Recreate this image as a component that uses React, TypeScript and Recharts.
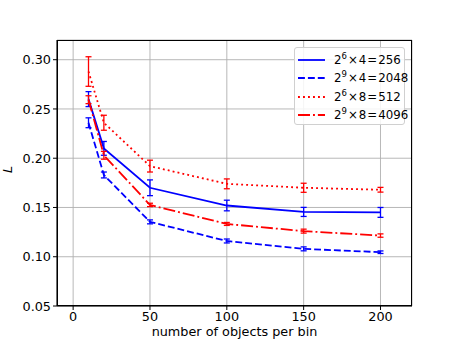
import { LineChart, Line, XAxis, YAxis, CartesianGrid, ErrorBar, Label } from "recharts";

const objectsPerBin = [10, 20, 50, 100, 150, 200];

const solid256 = [0.26, 0.21, 0.17, 0.152, 0.1455, 0.145];
const solid256Err = [0.0076, 0.007, 0.008, 0.0054, 0.0046, 0.005];

const dashed2048 = [0.236, 0.183, 0.1354, 0.116, 0.108, 0.1046];
const dashed2048Err = [0.005, 0.003, 0.002, 0.002, 0.002, 0.0013];

const dotted512 = [0.288, 0.236, 0.192, 0.174, 0.17, 0.168];
const dotted512Err = [0.015, 0.0076, 0.006, 0.005, 0.0046, 0.0024];

const dashdot4096 = [0.2594, 0.203, 0.1526, 0.1333, 0.126, 0.1215];
const dashdot4096Err = [0.004, 0.004, 0.0017, 0.0015, 0.002, 0.0017];

const xTicks = [0, 50, 100, 150, 200];
const yTicks = [0.05, 0.1, 0.15, 0.2, 0.25, 0.3];

const data = objectsPerBin.map((n, i) => ({
  n,
  a: solid256[i],
  aErr: solid256Err[i],
  b: dashed2048[i],
  bErr: dashed2048Err[i],
  c: dotted512[i],
  cErr: dotted512Err[i],
  d: dashdot4096[i],
  dErr: dashdot4096Err[i],
}));

const legendItems = [
  { exp: "6", mult: "4", total: "256", color: "#0000ff", dash: undefined },
  { exp: "9", mult: "4", total: "2048", color: "#0000ff", dash: "6.9 3" },
  { exp: "6", mult: "8", total: "512", color: "#ff0000", dash: "1.9 3.1" },
  { exp: "9", mult: "8", total: "4096", color: "#ff0000", dash: "12 3 1.9 3" },
];

const font = "'DejaVu Sans', sans-serif";

export default function App() {
  return (
    <div style={{ position: "absolute", left: 0, top: 0, width: 457, height: 343, fontFamily: font, background: "#fff" }}>
      <LineChart width={457} height={343} data={data} margin={{ top: 40, right: 45, left: 0, bottom: 0 }}>
        <CartesianGrid stroke="#b0b0b0" strokeWidth={0.9} />
        <XAxis
          dataKey="n"
          type="number"
          domain={[-10.5, 220.5]}
          ticks={xTicks}
          height={37}
          tickSize={4}
          tickMargin={2}
          stroke="#000"
          tick={{ fill: "#000", fontSize: 12.8, fontFamily: font }}
        >
          <Label value="number of objects per bin" position="bottom" offset={-16} style={{ fill: "#000", fontSize: 12.8, fontFamily: font }} />
        </XAxis>
        <YAxis
          type="number"
          domain={[0.05, 0.32]}
          ticks={yTicks}
          width={57}
          tickSize={4}
          tickMargin={2}
          stroke="#000"
          allowDataOverflow
          tickFormatter={(v: number) => v.toFixed(2)}
          tick={{ fill: "#000", fontSize: 12.8, fontFamily: font }}
        >
          <Label value="L" angle={-90} position="insideLeft" offset={7} style={{ fill: "#000", fontSize: 12.8, fontStyle: "italic", fontFamily: font }} />
        </YAxis>
        <Line dataKey="a" stroke="#0000ff" strokeWidth={1.8} dot={false} isAnimationActive={false}>
          <ErrorBar dataKey="aErr" width={3} stroke="#0000ff" strokeWidth={1.3} direction="y" />
        </Line>
        <Line dataKey="b" stroke="#0000ff" strokeWidth={1.8} strokeDasharray="6.9 3" dot={false} isAnimationActive={false}>
          <ErrorBar dataKey="bErr" width={3} stroke="#0000ff" strokeWidth={1.3} direction="y" />
        </Line>
        <Line dataKey="c" stroke="#ff0000" strokeWidth={1.8} strokeDasharray="1.9 3.1" dot={false} isAnimationActive={false}>
          <ErrorBar dataKey="cErr" width={3} stroke="#ff0000" strokeWidth={1.3} direction="y" />
        </Line>
        <Line dataKey="d" stroke="#ff0000" strokeWidth={1.8} strokeDasharray="12 3 1.9 3" dot={false} isAnimationActive={false}>
          <ErrorBar dataKey="dErr" width={3} stroke="#ff0000" strokeWidth={1.3} direction="y" />
        </Line>
      </LineChart>
      <div style={{ position: "absolute", left: 57, top: 40, width: 355, height: 266, border: "1px solid #000", boxSizing: "border-box", pointerEvents: "none" }} />
      <div
        style={{
          position: "absolute",
          left: 294,
          top: 47,
          width: 111,
          height: 78,
          boxSizing: "border-box",
          border: "1px solid #d0d0d0",
          borderRadius: 3,
          background: "rgba(255,255,255,0.85)",
          fontSize: 11.8,
          color: "#000",
        }}
      >
        {legendItems.map((it, i) => (
          <div key={i} style={{ position: "absolute", left: 3, top: 4 + i * 18.3, height: 16, display: "flex", alignItems: "center", whiteSpace: "nowrap" }}>
            <svg width={27} height={6} style={{ marginRight: 9 }}>
              <line x1={0} y1={3} x2={27} y2={3} stroke={it.color} strokeWidth={1.8} strokeDasharray={it.dash} />
            </svg>
            <span>
              2<sup style={{ fontSize: 8.5, verticalAlign: "5px", lineHeight: 0 }}>{it.exp}</sup>
              <span style={{ margin: "0 1px" }}>×</span>
              {it.mult}
              <span style={{ margin: "0 1px" }}>=</span>
              {it.total}
            </span>
          </div>
        ))}
      </div>
    </div>
  );
}
